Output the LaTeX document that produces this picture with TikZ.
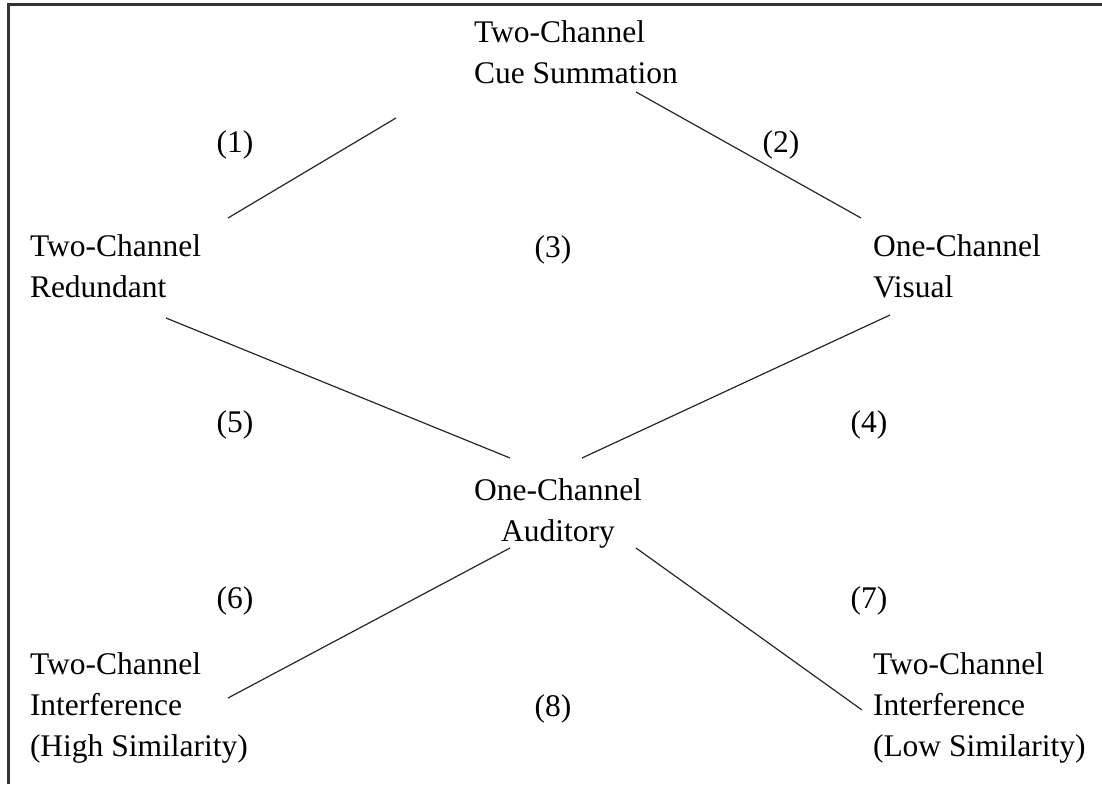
\documentclass[tikz,border=0pt]{standalone}
\usepackage{fontspec}
\setmainfont{Liberation Serif}
\begin{document}
\begin{tikzpicture}[x=1pt,y=-1pt,
  lbl/.style={inner sep=0pt,outer sep=0pt,font=\fontsize{31.5}{41}\selectfont},
  lleft/.style={lbl,align=left,anchor=base west},
  num/.style={lbl,anchor=base},
  link/.style={line width=1.2pt,draw=black!85}]
\useasboundingbox (0,0) rectangle (1102,784);
% frame: only the top and left edges are visible
\draw[line width=2.2pt,draw=black!80] (8.5,784) -- (8.5,4.5) -- (1102,4.5);

% states (each node is placed at the baseline of its last line)
\node[lleft] (cue) at (474,83) {Two-Channel\\Cue Summation};
\node[lleft] (red) at (30,297) {Two-Channel\\Redundant};
\node[lleft] (vis) at (873,297) {One-Channel\\Visual};
\node[lbl,align=center,anchor=base] (aud) at (558,541) {One-Channel\\Auditory};
\node[lleft] (hi) at (30,756) {Two-Channel\\Interference\\(High Similarity)};
\node[lleft] (lo) at (873,756) {Two-Channel\\Interference\\(Low Similarity)};

% comparison numbers
\node[num] (n1) at (235,152) {(1)};
\node[num] (n2) at (781,152) {(2)};
\node[num] (n3) at (553,257) {(3)};
\node[num] (n4) at (869,432) {(4)};
\node[num] (n5) at (235,432) {(5)};
\node[num] (n6) at (235,608) {(6)};
\node[num] (n7) at (869,608) {(7)};
\node[num] (n8) at (553,716) {(8)};

% connector ends
\coordinate (cueL) at (396,118);
\coordinate (cueR) at (636,92);
\coordinate (redT) at (228,218);
\coordinate (redB) at (166,318);
\coordinate (visT) at (861,218);
\coordinate (visB) at (890,315);
\coordinate (audTL) at (510,458);
\coordinate (audTR) at (582,458);
\coordinate (audBL) at (510,548);
\coordinate (audBR) at (636,548);
\coordinate (hiT) at (228,698);
\coordinate (loT) at (862,710);

\draw[link] (redT) -- (cueL);
\draw[link] (cueR) -- (visT);
\draw[link] (redB) -- (audTL);
\draw[link] (audTR) -- (visB);
\draw[link] (hiT) -- (audBL);
\draw[link] (audBR) -- (loT);
\end{tikzpicture}
\end{document}
